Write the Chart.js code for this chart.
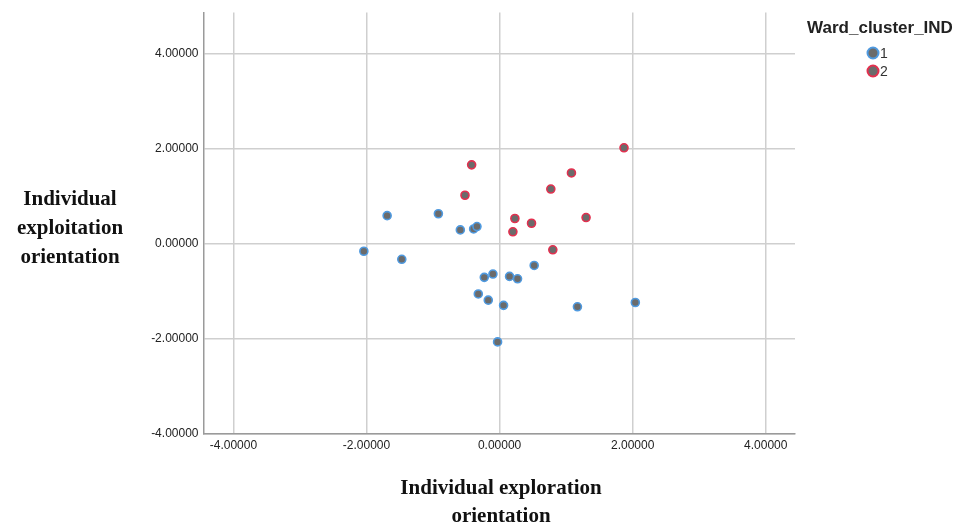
<!DOCTYPE html>
<html>
<head>
<meta charset="utf-8">
<title>Ward cluster scatter</title>
<script src="https://cdn.jsdelivr.net/npm/chart.js@4"></script>
<style>
  html, body { margin: 0; padding: 0; background: #fff; }
  #wrap { position: relative; width: 960px; height: 526px; }
</style>
</head>
<body>
<div id="wrap"><canvas id="chart" width="960" height="526"></canvas></div>
<script>
// cluster 1 (blue ring)
const cluster1X = [-1.69, -0.92, -0.59, -0.39, -0.34, -2.04, -1.47, 0.52, -0.23, -0.10, 0.15, 0.27, -0.32, -0.17, 0.06, 1.17, 2.04, -0.03];
const cluster1Y = [0.59, 0.63, 0.29, 0.31, 0.36, -0.16, -0.33, -0.46, -0.71, -0.64, -0.69, -0.74, -1.06, -1.19, -1.30, -1.33, -1.24, -2.07];
// cluster 2 (red ring)
const cluster2X = [-0.42, -0.52, 0.23, 0.20, 0.48, 0.80, 1.87, 1.08, 0.77, 1.30];
const cluster2Y = [1.66, 1.02, 0.53, 0.25, 0.43, -0.13, 2.02, 1.49, 1.15, 0.55];

const xTicks = [-4, -2, 0, 2, 4];
const yTicks = [-4, -2, 0, 2, 4];
const clusterLabels = ['1', '2'];
const legendTitle = 'Ward_cluster_IND';
const xTitle = ['Individual exploration', 'orientation'];
const yTitle = ['Individual', 'exploitation', 'orientation'];

const ringColors = ['#4f9ae0', '#e3304f'];
const dotFill = '#6b6b6b';

function toPoints(xs, ys) {
    return xs.map((x, i) => ({ x: x, y: ys[i] }));
}

// axis titles and legend, drawn on the canvas
const textPlugin = {
    id: 'sideText',
    afterDraw: function(chart) {
        const ctx = chart.ctx;
        ctx.save();
        ctx.fillStyle = '#111';
        ctx.textAlign = 'center';
        ctx.textBaseline = 'middle';
        ctx.font = 'bold 21px "Liberation Serif", serif';
        yTitle.forEach((t, i) => ctx.fillText(t, 70, 200 + i * 29));
        xTitle.forEach((t, i) => ctx.fillText(t, 501, 489 + i * 28));

        ctx.font = 'bold 17px "Liberation Sans", Arial, sans-serif';
        ctx.fillStyle = '#222';
        ctx.fillText(legendTitle, 880, 28);

        ctx.textAlign = 'left';
        ctx.font = '14px "Liberation Sans", Arial, sans-serif';
        clusterLabels.forEach((lab, i) => {
            const cy = 53 + i * 18;
            ctx.beginPath();
            ctx.arc(873, cy, 5.5, 0, Math.PI * 2);
            ctx.fillStyle = dotFill;
            ctx.fill();
            ctx.lineWidth = 2;
            ctx.strokeStyle = ringColors[i];
            ctx.stroke();
            ctx.fillStyle = '#333';
            ctx.fillText(lab, 880, cy + 1);
        });
        ctx.restore();
    }
};

const tickFont = { family: '"Liberation Sans", Arial, sans-serif', size: 12 };

new Chart(document.getElementById('chart').getContext('2d'), {
    type: 'scatter',
    data: {
        datasets: [
            {
                label: clusterLabels[0],
                data: toPoints(cluster1X, cluster1Y),
                backgroundColor: dotFill,
                borderColor: ringColors[0],
                borderWidth: 1.6,
                pointRadius: 4
            },
            {
                label: clusterLabels[1],
                data: toPoints(cluster2X, cluster2Y),
                backgroundColor: dotFill,
                borderColor: ringColors[1],
                borderWidth: 1.6,
                pointRadius: 4
            }
        ]
    },
    options: {
        responsive: false,
        animation: false,
        layout: { padding: { left: 128.5, right: 165, top: 12.5, bottom: 62.5 } },
        plugins: {
            legend: { display: false },
            tooltip: { enabled: false }
        },
        scales: {
            x: {
                type: 'linear',
                min: -4.45,
                max: 4.44,
                afterBuildTicks: function(scale) {
                    scale.ticks = xTicks.map(v => ({ value: v }));
                },
                afterFit: function(scale) { scale.height = 30; },
                grid: { color: '#cfcfcf', lineWidth: 1.5, drawTicks: false },
                border: { color: '#9a9a9a', width: 1.5 },
                ticks: {
                    color: '#222',
                    font: tickFont,
                    padding: 5,
                    callback: v => v.toFixed(5)
                }
            },
            y: {
                type: 'linear',
                min: -4.0,
                max: 4.87,
                afterBuildTicks: function(scale) {
                    scale.ticks = yTicks.map(v => ({ value: v }));
                },
                afterFit: function(scale) { scale.width = 75; },
                grid: { color: '#cfcfcf', lineWidth: 1.5, drawTicks: false },
                border: { color: '#9a9a9a', width: 1.5 },
                ticks: {
                    color: '#222',
                    font: tickFont,
                    padding: 5,
                    callback: v => v.toFixed(5)
                }
            }
        }
    },
    plugins: [textPlugin]
});
</script>
</body>
</html>
